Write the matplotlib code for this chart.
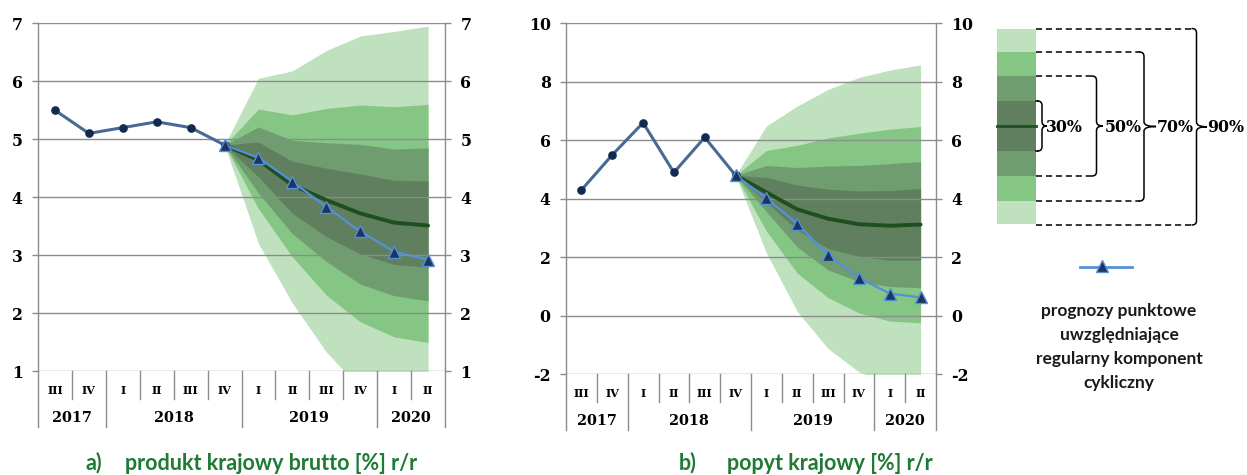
import matplotlib
matplotlib.use("Agg")
import matplotlib.pyplot as plt
from matplotlib import font_manager as fm
from matplotlib.path import Path
from matplotlib.patches import PathPatch, Rectangle
from matplotlib.lines import Line2D

# ---------------- data ----------------
quarters = ["III", "IV", "I", "II", "III", "IV", "I", "II", "III", "IV", "I", "II"]
years = ["2017", "2018", "2019", "2020"]
year_first = [0, 2, 6, 10]
year_last = [1, 5, 9, 11]

hist_x = [0, 1, 2, 3, 4, 5]
fc_x = [5, 6, 7, 8, 9, 10, 11]

# a) GDP
gdp_hist = [5.5, 5.1, 5.2, 5.3, 5.2, 4.9]
gdp_point = [4.9, 4.68, 4.27, 3.83, 3.41, 3.06, 2.92]
gdp_central = [4.9, 4.64, 4.21, 3.95, 3.72, 3.56, 3.51]
gdp_90_hi = [4.9, 6.05, 6.18, 6.53, 6.78, 6.86, 6.95]
gdp_70_hi = [4.9, 5.52, 5.42, 5.53, 5.59, 5.56, 5.60]
gdp_50_hi = [4.9, 5.21, 4.98, 4.94, 4.91, 4.83, 4.85]
gdp_30_hi = [4.9, 4.95, 4.62, 4.50, 4.40, 4.29, 4.28]
gdp_30_lo = [4.9, 4.35, 3.72, 3.32, 3.02, 2.84, 2.79]
gdp_50_lo = [4.9, 4.07, 3.37, 2.89, 2.50, 2.30, 2.21]
gdp_70_lo = [4.9, 3.80, 2.97, 2.31, 1.85, 1.59, 1.49]
gdp_90_lo = [4.9, 3.20, 2.17, 1.33, 0.70, 0.45, 0.30]

# b) domestic demand
dd_hist = [4.3, 5.5, 6.6, 4.9, 6.1, 4.8]
dd_point = [4.8, 4.02, 3.15, 2.08, 1.30, 0.76, 0.63]
dd_central = [4.8, 4.22, 3.64, 3.32, 3.13, 3.08, 3.12]
dd_90_hi = [4.8, 6.49, 7.17, 7.74, 8.15, 8.40, 8.58]
dd_70_hi = [4.8, 5.65, 5.83, 6.08, 6.24, 6.38, 6.47]
dd_50_hi = [4.8, 5.14, 5.07, 5.12, 5.14, 5.20, 5.27]
dd_30_hi = [4.8, 4.73, 4.47, 4.33, 4.27, 4.28, 4.35]
dd_30_lo = [4.8, 3.88, 2.93, 2.30, 2.03, 1.90, 1.90]
dd_50_lo = [4.8, 3.56, 2.35, 1.57, 1.17, 1.00, 0.96]
dd_70_lo = [4.8, 2.90, 1.46, 0.62, 0.10, -0.18, -0.24]
dd_90_lo = [4.8, 2.15, 0.15, -1.12, -1.92, -2.30, -2.45]

gdp_ticks = [1, 2, 3, 4, 5, 6, 7]
dd_ticks = [-2, 0, 2, 4, 6, 8, 10]

title_a = ("a)", "produkt krajowy brutto [%] r/r")
title_b = ("b)", "popyt krajowy [%] r/r")
band_labels = ["30%", "50%", "70%", "90%"]
legend_text = "prognozy punktowe\nuwzględniające\nregularny komponent\ncykliczny"

# ---------------- fonts ----------------
plt.rcParams["font.family"] = ["DejaVu Serif"]
plt.rcParams["font.weight"] = "bold"
plt.rcParams["font.size"] = 11.3


def _w(f):
    w = f.weight
    if isinstance(w, str):
        w = {"normal": 400, "regular": 400, "bold": 700, "semibold": 600,
             "heavy": 800, "black": 900, "light": 300, "medium": 500}.get(w.lower(), 400)
    return w


def bold_font(families, target=700):
    for fam in families:
        cands = [f for f in fm.fontManager.ttflist
                 if f.name == fam and f.style == "normal"]
        bold = [f for f in cands if 650 <= _w(f) <= 800]
        if bold:
            best = min(bold, key=lambda f: abs(_w(f) - target))
            return fm.FontProperties(fname=best.fname)
    return fm.FontProperties(family="DejaVu Sans", weight="bold")


SERIF_FP = fm.FontProperties(family="DejaVu Serif", weight="bold")
SANS_FP = bold_font(["Lato", "Open Sans", "Noto Sans", "DejaVu Sans"])


def fp(base, size):
    p = base.copy()
    p.set_size(size)
    return p


# ---------------- style ----------------
C90 = "#bfe1be"
C70 = "#85c685"
C50 = "#6f9d6f"
C30 = "#5f7f5f"
CCENTRAL = "#1e4f1e"
CHIST = "#476a95"
CHISTM = "#112b50"
CFC = "#5590d8"
CFCM = "#1c3662"
GRID = "#8c8c8c"
GREEN_TITLE = "#1f7a34"

W, H = 1247, 475
fig = plt.figure(figsize=(W / 100, H / 100), dpi=100)


def px_axes(x0, y0, x1, y1):
    return fig.add_axes([x0 / W, 1 - y1 / H, (x1 - x0) / W, (y1 - y0) / H])


def draw_panel(ax, hist, point, central, bands, ticks):
    n = len(quarters)
    ax.set_xlim(-0.5, n - 0.5)
    ax.set_ylim(ticks[0], ticks[-1])
    ax.set_facecolor("none")
    colors = [C90, C70, C50, C30]
    for (lo, hi), c in zip(bands, colors):
        ax.fill_between(fc_x, lo, hi, color=c, lw=0, zorder=1)
    for t in ticks:
        ax.axhline(t, color=GRID, lw=1.0, zorder=2)
    ax.plot(fc_x, central, color=CCENTRAL, lw=2.8, zorder=3, solid_capstyle="round")
    ax.plot(hist_x, hist, color=CHIST, lw=2.2, marker="o", ms=5.2,
            mfc=CHISTM, mec=CHISTM, zorder=4)
    ax.plot(fc_x, point, color=CFC, lw=1.6, marker="^", ms=8,
            mfc=CFCM, mec=CFC, mew=1.0, zorder=5)
    for s in ["top", "bottom"]:
        ax.spines[s].set_visible(False)
    for s in ["left", "right"]:
        ax.spines[s].set_color(GRID)
        ax.spines[s].set_linewidth(1.0)
    ax.set_yticks(ticks)
    ax.set_yticklabels([str(t) for t in ticks])
    ax.set_xticks([])
    ax.tick_params(axis="y", which="both", left=True, right=True,
                   labelleft=True, labelright=True, direction="out",
                   length=4, width=1.0, color=GRID, pad=7.0, labelsize=11.3)

    # category axis (two rows)
    hpx = ax.get_position().height * H
    q_depth = 28 / hpx
    y_depth = 56 / hpx
    tr = ax.get_xaxis_transform()
    year_bounds = [year_first[0] - 0.5] + [l + 0.5 for l in year_last]
    for i in range(n + 1):
        xb = i - 0.5
        depth = y_depth if any(abs(xb - b) < 1e-9 for b in year_bounds) else q_depth
        ax.add_line(Line2D([xb, xb], [0, -depth], transform=tr, color=GRID,
                           lw=1.0, clip_on=False))
    for i, q in enumerate(quarters):
        ax.text(i, -19.5 / hpx, q, transform=tr, ha="center", va="center",
                fontproperties=fp(SERIF_FP, 8))
    for yl, a, b in zip(years, year_first, year_last):
        ax.text((a + b) / 2, -47 / hpx, yl, transform=tr, ha="center",
                va="center", fontproperties=fp(SERIF_FP, 10.4))


ax1 = px_axes(38, 23.3, 445, 371)
draw_panel(ax1, gdp_hist, gdp_point, gdp_central,
           [(gdp_90_lo, gdp_90_hi), (gdp_70_lo, gdp_70_hi),
            (gdp_50_lo, gdp_50_hi), (gdp_30_lo, gdp_30_hi)], gdp_ticks)

ax2 = px_axes(566, 23.3, 936, 374.3)
draw_panel(ax2, dd_hist, dd_point, dd_central,
           [(dd_90_lo, dd_90_hi), (dd_70_lo, dd_70_hi),
            (dd_50_lo, dd_50_hi), (dd_30_lo, dd_30_hi)], dd_ticks)

# ---------------- overlay (titles, legend) ----------------
ov = fig.add_axes([0, 0, 1, 1], zorder=10)
ov.set_xlim(0, W)
ov.set_ylim(H, 0)
ov.axis("off")
ov.patch.set_alpha(0)

for (lab, txt), x0, x1 in [(title_a, 85, 125), (title_b, 679, 727)]:
    ov.text(x0, 463, lab, ha="left", va="center",
            fontproperties=fp(SANS_FP, 15.5), color=GREEN_TITLE)
    ov.text(x1, 463, txt, ha="left", va="center",
            fontproperties=fp(SANS_FP, 15.5), color=GREEN_TITLE)

# colour bar of the legend
bx0, bx1 = 997, 1036
edges = [29, 52, 76, 101, 151, 176, 201, 224]
bcols = [C90, C70, C50, C30, C50, C70, C90]
for (y0, y1), c in zip(zip(edges[:-1], edges[1:]), bcols):
    ov.add_patch(Rectangle((bx0, y0), bx1 - bx0, y1 - y0, color=c, lw=0))
ov.plot([bx0, bx1], [126, 126], color=CCENTRAL, lw=2.0)


def brace(xb, top, bot, tip_x, r=4.5):
    mid = (top + bot) / 2
    verts = [(xb - r, top), (xb, top), (xb, top + r),
             (xb, mid - r), (xb, mid), (tip_x, mid),
             (xb, mid), (xb, mid + r),
             (xb, bot - r), (xb, bot), (xb - r, bot)]
    codes = [Path.MOVETO, Path.CURVE3, Path.CURVE3,
             Path.LINETO, Path.CURVE3, Path.CURVE3,
             Path.CURVE3, Path.CURVE3,
             Path.LINETO, Path.CURVE3, Path.CURVE3]
    ov.add_patch(PathPatch(Path(verts, codes), fill=False, lw=1.1,
                           edgecolor="black", capstyle="round"))


# (top, bottom, brace x, tip x, label x, dashed)
brace_specs = [(101, 151, 1042, 1047, 1046, False),
               (76, 176, 1096.5, 1103, 1105, True),
               (52, 201, 1144, 1156, 1157, True),
               (28.5, 225, 1196.5, 1207, 1207, True)]
for (top, bot, xb, tip, lx, dashed), lab in zip(brace_specs, band_labels):
    brace(xb, top, bot, tip)
    ls = (0, (4, 2.5)) if dashed else "-"
    for yy in (top, bot):
        ov.plot([bx1, xb - 4.5], [yy, yy], color="black", lw=1.1, ls=ls)
    ov.text(lx, 127, lab, ha="left", va="center",
            fontproperties=fp(SERIF_FP, 11.3))

# point forecast legend line
ov.plot([1080, 1132], [267, 267], color=CFC, lw=2.0)
ov.plot([1102], [266], marker="^", ms=8, mfc=CFCM, mec=CFC, mew=1.0)
ov.text(1119, 347, legend_text, ha="center", va="center",
        fontproperties=fp(SANS_FP, 12.5), color="#1a1a1a", linespacing=1.6)

fig.savefig("out.png", dpi=100)
